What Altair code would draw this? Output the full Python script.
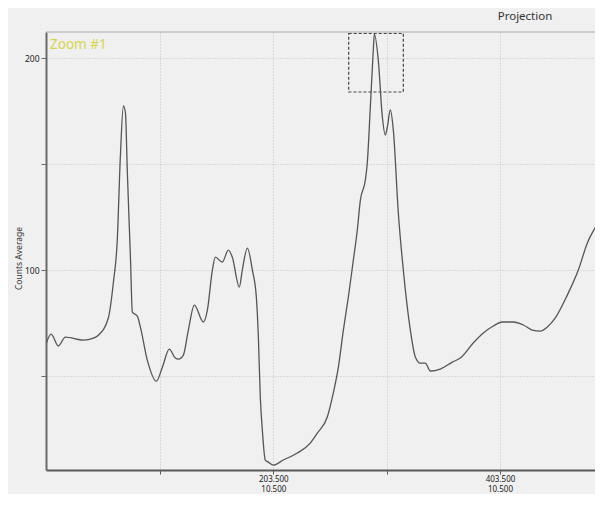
import altair as alt
import pandas as pd

# Spectrum
x_vals = [3.2, 7.4, 13.8, 20.0, 35.9, 44.7, 49.1, 57.9, 62.3, 65.8, 68.5, 71.2, 73.0, 74.7,
          77.4, 79.1, 83.5, 86.2, 92.3, 100.3, 105.6, 111.7, 117.0, 119.7, 124.1, 128.5,
          133.8, 141.7, 145.3, 149.7, 152.3, 158.5, 163.8, 167.3, 173.5, 176.1, 180.6,
          185.0, 188.5, 190.3, 192.0, 193.8, 196.4, 199.1, 203.5, 212.3, 224.7, 236.1,
          242.3, 251.1, 256.4, 260.9, 265.3, 269.7, 274.1, 277.6, 280.3, 284.7, 286.4,
          289.1, 291.7, 292.6, 296.1, 299.7, 302.3, 304.1, 306.7, 309.4, 313.8, 318.2,
          324.4, 328.8, 333.2, 337.6, 342.0, 350.8, 361.4, 368.5, 379.9, 388.8, 397.6,
          405.5, 415.3, 424.1, 432.0, 439.1, 445.3, 452.3, 462.9, 472.6, 480.5, 489.4, 494.7]
y_vals = [65.6, 69.8, 64.2, 68.4, 67.0, 67.9, 69.3, 77.4, 93.9, 114.2, 153.3, 177.4, 174.1, 145.8,
          106.1, 80.2, 78.3, 73.1, 57.5, 47.6, 54.2, 62.7, 58.5, 58.0, 59.9, 71.7,
          83.5, 75.5, 81.1, 100.0, 106.1, 103.8, 109.4, 106.1, 92.0, 100.0, 110.4,
          100.0, 87.3, 68.4, 40.1, 24.5, 10.4, 9.4, 8.0, 10.4, 13.7, 18.4,
          23.1, 30.7, 42.0, 54.2, 71.7, 87.3, 104.7, 118.9, 133.0, 142.5, 150.5,
          176.9, 203.8, 211.3, 199.1, 172.2, 163.7, 167.5, 175.5, 166.0, 126.9, 100.0,
          71.7, 59.0, 56.1, 56.1, 52.4, 53.3, 56.6, 58.5, 65.6, 70.3, 73.6,
          75.5, 75.5, 74.1, 71.7, 71.2, 73.1, 77.4, 88.2, 100.0, 112.7, 122.2, 129.2]

# Axes
x_domain = [2.9, 494.4]
y_domain = [5.7, 212.3]
x_ticks = [103.5, 203.5, 303.5, 403.5]
x_labels_top = ["", "203.500", "", "403.500"]
x_labels_bottom = ["", "10.500", "", "10.500"]
y_ticks = [50, 100, 150, 200]
y_labels = ["", "100", "", "200"]

# Zoom box
zoom_x = [270.0, 318.2]
zoom_y = [184.0, 211.6]

df = pd.DataFrame({"x": x_vals, "y": y_vals})
box = pd.DataFrame({"x": [zoom_x[0]], "x2": [zoom_x[1]], "y": [zoom_y[0]], "y2": [zoom_y[1]]})

def x_label_expr():
    parts = []
    for v, a, b in zip(x_ticks, x_labels_top, x_labels_bottom):
        if a:
            parts.append(f"datum.value == {v} ? ['{a}', '{b}']")
    return " : ".join(parts) + " : ''"

def y_label_expr():
    parts = []
    for v, a in zip(y_ticks, y_labels):
        if a:
            parts.append(f"datum.value == {v} ? '{a}'")
    return " : ".join(parts) + " : ''"

font = "Noto Sans"

xscale = alt.Scale(domain=x_domain, nice=False, zero=False)
yscale = alt.Scale(domain=y_domain, nice=False, zero=False)

line = alt.Chart(df).mark_line(
    color="#555555", strokeWidth=1.3, interpolate="monotone", clip=True
).encode(
    x=alt.X("x:Q", scale=xscale, axis=alt.Axis(
        values=x_ticks, labelExpr=x_label_expr(), title=None,
        grid=True, gridColor="#c4c4c4", gridDash=[1, 2], gridWidth=1,
        domainColor="#5a5a5a", domainWidth=2, tickColor="#5a5a5a", tickSize=4,
        labelFont=font, labelFontSize=8, labelColor="#222222", labelPadding=1,
        labelLineHeight=10, labelFlush=False)),
    y=alt.Y("y:Q", scale=yscale, axis=alt.Axis(
        values=y_ticks, labelExpr=y_label_expr(), title="Counts Average",
        grid=True, gridColor="#c4c4c4", gridDash=[1, 2], gridWidth=1,
        domainColor="#6a6a6a", domainWidth=2, tickColor="#6a6a6a", tickSize=5,
        labelFont=font, labelFontSize=8.5, labelColor="#222222", labelPadding=2,
        titleFont=font, titleFontSize=8.5, titleFontWeight="normal", titleColor="#333333",
        titleX=-28, titleY=226, titleAngle=270, titleAlign="center", titleBaseline="middle")),
)

rect = alt.Chart(box).mark_rect(
    fill=None, stroke="#444444", strokeWidth=1.2, strokeDash=[3, 2]
).encode(x="x:Q", x2="x2:Q", y="y:Q", y2="y2:Q")

zoom_label = alt.Chart(pd.DataFrame({"t": ["Zoom #1"]})).mark_text(
    align="left", baseline="middle", font=font, fontSize=13.5, color="#d6d64a"
).encode(x=alt.value(4), y=alt.value(13), text="t:N")

title_txt = alt.Chart(pd.DataFrame({"t": ["Projection"]})).mark_text(
    align="center", baseline="middle", font=font, fontSize=11.5, color="#333333"
).encode(x=alt.value(479), y=alt.value(-15), text="t:N")

top_border = alt.Chart(pd.DataFrame({"a": [0]})).mark_rule(
    color="#a8a8a8", strokeWidth=1
).encode(x=alt.value(0), x2=alt.value(557), y=alt.value(0))

chart = alt.layer(line, rect, zoom_label, title_txt, top_border).properties(
    width=557, height=438,
    autosize=alt.AutoSizeParams(type="none"),
    padding={"left": 38, "top": 24, "right": -8, "bottom": 24},
    background="#f0f0f0",
).configure_view(stroke=None, fill="#f0f0f0")

chart.save("out.html", embed_options={"renderer": "svg", "actions": False})
